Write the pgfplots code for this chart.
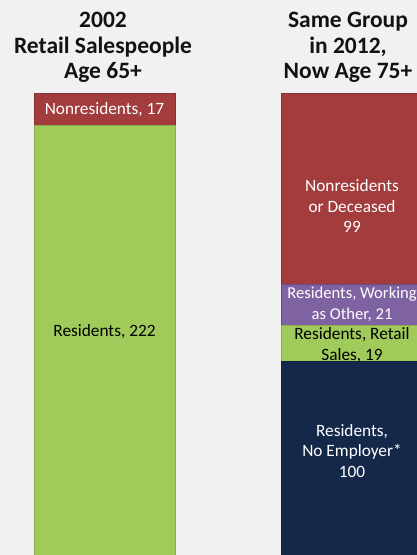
\documentclass[border=0pt]{standalone}
\usepackage{pgfplots}
\pgfplotsset{compat=1.18}
\usepackage{fontspec}
\setmainfont{Carlito}
\definecolor{bg}{HTML}{F0F1F0}
\definecolor{cred}{HTML}{A23C3D}
\definecolor{cgreen}{HTML}{A0CB5B}
\definecolor{cnavy}{HTML}{14294A}
\definecolor{cpurple}{HTML}{7F62A1}
\tikzset{lab/.style={align=center, inner sep=0pt, font=\fontsize{17.3bp}{20.5bp}\selectfont}}
\tikzset{ttl/.style={align=center, font=\fontsize{23.5bp}{25.5bp}\selectfont\bfseries, text=black!93}}
\pgfplotsset{base/.style={
  at={(0,0)}, anchor=south west,
  scale only axis, width=417bp, height=555bp,
  xmin=0, xmax=417, ymin=0, ymax=287.1,
  axis lines=none, ticks=none, clip=false}}
\begin{document}
\begin{tikzpicture}
\fill[bg] (0,0) rectangle (417bp,555bp);
\useasboundingbox (0,0) rectangle (417bp,555bp);
% left bar: 2002
\begin{axis}[base, ybar stacked, bar width=141bp, bar shift=0pt]
\addplot[fill=cgreen, draw=cgreen!85!black, line width=0.8bp] coordinates {(104.5,222)};
\addplot[fill=cred, draw=cred!80!black, line width=0.8bp] coordinates {(104.5,17)};
\end{axis}
% right bar: 2012
\begin{axis}[base, ybar stacked, bar width=141bp, bar shift=0pt]
\addplot[fill=cnavy, draw=cnavy!80!black, line width=0.8bp] coordinates {(352,100)};
\addplot[fill=cgreen, draw=cgreen!85!black, line width=0.8bp] coordinates {(352,19)};
\addplot[fill=cpurple, draw=cpurple!80!black, line width=0.8bp] coordinates {(352,21)};
\addplot[fill=cred, draw=cred!80!black, line width=0.8bp] coordinates {(352,99)};
\end{axis}
\begin{axis}[base]
\node[lab, text=white] at (axis cs:104.5,230.5) {Nonresidents, 17};
\node[lab, text=black] at (axis cs:104.5,115.5) {Residents, 222};
\node[lab, text=white] at (axis cs:352,180.5) {Nonresidents\\or Deceased\\99};
\node[lab, text=white, font=\fontsize{16.6bp}{20.5bp}\selectfont] at (axis cs:352,129.6) {Residents, Working\\as Other, 21};
\node[lab, text=black] at (axis cs:352,108.5) {Residents, Retail\\Sales, 19};
\node[lab, text=white] at (axis cs:352,53.8) {Residents,\\No Employer*\\100};
\end{axis}
\node[ttl, anchor=north] at (103bp,546bp) {2002\\Retail Salespeople\\Age 65+};
\node[ttl, anchor=north] at (348bp,546bp) {Same Group\\in 2012,\\Now Age 75+};
\end{tikzpicture}
\end{document}
